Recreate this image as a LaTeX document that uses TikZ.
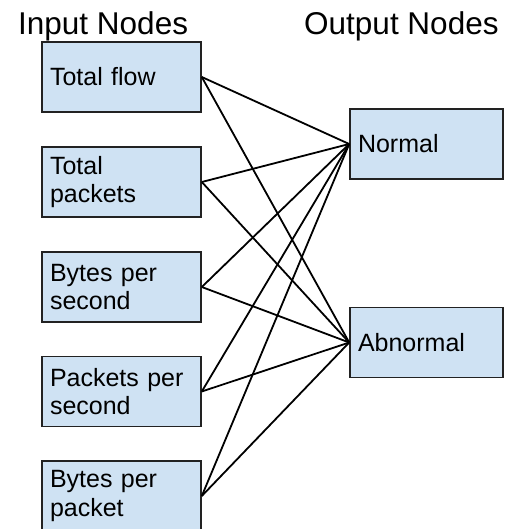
\documentclass[tikz,border=0pt]{standalone}
\usepackage{fontspec}
\setmainfont{Liberation Sans}
\definecolor{boxfill}{HTML}{CFE2F3}
\definecolor{boxdraw}{HTML}{222222}
\begin{document}
\begin{tikzpicture}[x=1pt,y=-1pt,
  inbox/.style={draw=boxdraw, fill=boxfill, line width=1.6pt, rectangle,
    minimum width=159pt, minimum height=70pt, text width=143pt, inner xsep=8pt, inner ysep=0pt,
    align=left, font=\fontsize{25}{28.5}\selectfont},
  outbox/.style={inbox, minimum width=153pt, text width=137pt},
  title/.style={anchor=base west, inner sep=0pt, font=\fontsize{31.5}{34}\selectfont},
  link/.style={line width=1.8pt, black}]
\useasboundingbox (0,0) rectangle (512,529);
\node[title] (tin) at (18,35) {Input Nodes};
\node[title] (tout) at (304,35) {Output Nodes};
\node[inbox] (i1) at (121.5,77) {Total flow};
\node[inbox] (i2) at (121.5,182) {Total\\packets};
\node[inbox] (i3) at (121.5,287) {Bytes per\\second};
\node[inbox] (i4) at (121.5,391.5) {Packets per\\second};
\node[inbox] (i5) at (121.5,496) {Bytes per\\packet};
\node[outbox] (o1) at (426.5,144) {Normal};
\node[outbox] (o2) at (426.5,342.5) {Abnormal};
\foreach \i in {1,...,5}{
  \foreach \o in {1,2}{
    \draw[link] (i\i.east) -- (o\o.west);
  }
}
\end{tikzpicture}
\end{document}
